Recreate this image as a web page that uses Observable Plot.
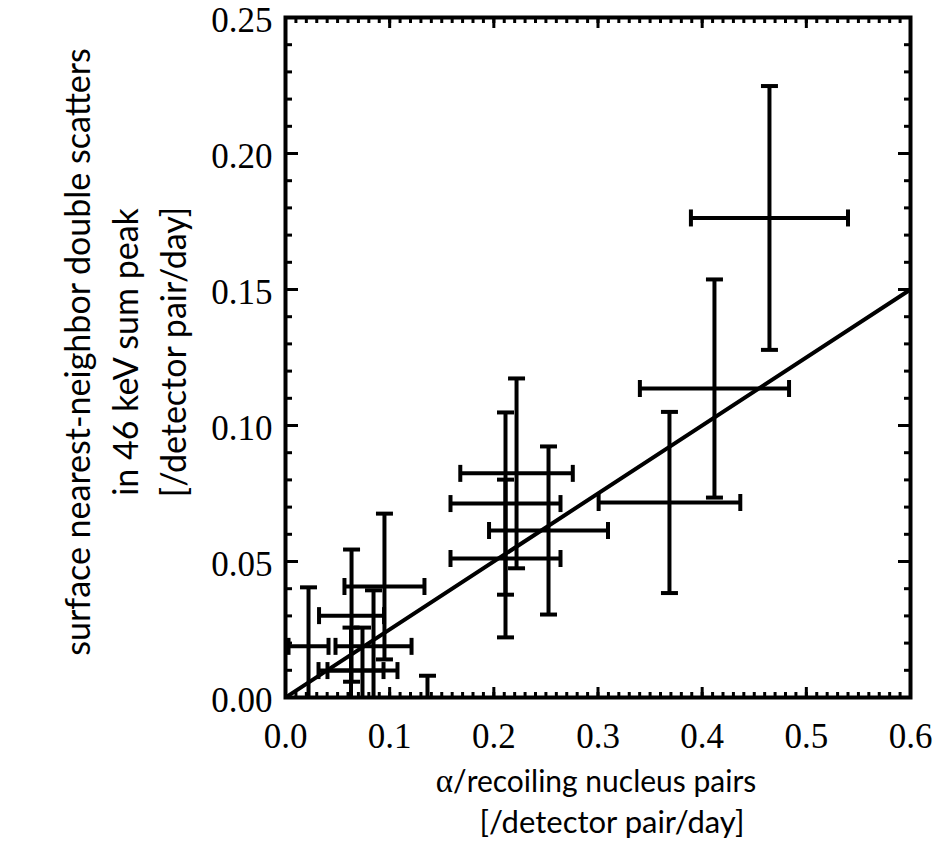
<!DOCTYPE html>
<html><head><meta charset="utf-8">
<script src="https://cdn.jsdelivr.net/npm/d3@7"></script>
<script src="https://cdn.jsdelivr.net/npm/@observablehq/plot@0.6"></script>
<style>body{margin:0;background:#fff}</style>
</head><body><div id="chart"></div>
<script>
// alpha/recoiling nucleus pair rate (x) and surface NN double-scatter rate (y), with 1-sigma errors
const xVal = [0.4646, 0.4118, 0.3686, 0.2218, 0.2112, 0.2525, 0.2112, 0.0950, 0.0634, 0.0221, 0.0845, 0.0739, 0.0629, 0.1363];
const yVal = [0.1763, 0.1136, 0.0717, 0.0824, 0.0713, 0.0614, 0.0511, 0.0408, 0.0301, 0.0188, 0.0188, 0.0099, 0.0099, -0.0030];
const xErr = [0.0754, 0.0716, 0.0680, 0.0540, 0.0528, 0.0571, 0.0528, 0.0384, 0.0312, 0.0192, 0.0365, 0.0336, 0.0312, 0.0300];
const yErr = [0.0485, 0.0401, 0.0333, 0.0349, 0.0335, 0.0309, 0.0290, 0.0268, 0.0243, 0.0217, 0.0206, 0.0158, 0.0158, 0.0110];
// linear fit
const fitX = [0, 0.6];
const fitSlope = 0.25, fitIntercept = 0;
// axes
const xTicks = [0, 0.1, 0.2, 0.3, 0.4, 0.5, 0.6];
const xTickLabels = ["0.0", "0.1", "0.2", "0.3", "0.4", "0.5", "0.6"];
const yTicks = [0, 0.05, 0.10, 0.15, 0.20, 0.25];
const yTickLabels = ["0.00", "0.05", "0.10", "0.15", "0.20", "0.25"];
const xMinor = d3.range(0, 0.6001, 0.01);
const yMinor = d3.range(0, 0.2501, 0.01);

const pts = xVal.map((x, i) => ({x, y: yVal[i], xe: xErr[i], ye: yErr[i]}));
const fit = fitX.map(x => ({x, y: fitSlope * x + fitIntercept}));

const hCap = {draw(ctx, size) { const r = Math.sqrt(size / Math.PI); ctx.moveTo(-r, 0); ctx.lineTo(r, 0); }};
const vCap = {draw(ctx, size) { const r = Math.sqrt(size / Math.PI); ctx.moveTo(0, -r); ctx.lineTo(0, r); }};

const SW = 4, CAP = 8.5;
const tickStyle = (o) => ({tickFormat: () => "", label: null, strokeWidth: 3, ...o});

const plot = Plot.plot({
  width: 945, height: 844,
  marginLeft: 285, marginRight: 35, marginTop: 17, marginBottom: 147,
  x: {domain: [0, 0.6]},
  y: {domain: [0, 0.25]},
  style: {background: "white"},
  marks: [
    // error bars
    Plot.ruleX(pts, {x: "x", y1: d => d.y - d.ye, y2: d => d.y + d.ye, stroke: "black", strokeWidth: SW, clip: true}),
    Plot.ruleY(pts, {y: "y", x1: d => d.x - d.xe, x2: d => d.x + d.xe, stroke: "black", strokeWidth: SW, clip: true}),
    Plot.dot(pts, {x: "x", y: d => d.y + d.ye, symbol: hCap, r: CAP, fill: "none", stroke: "black", strokeWidth: SW, clip: true}),
    Plot.dot(pts, {x: "x", y: d => d.y - d.ye, symbol: hCap, r: CAP, fill: "none", stroke: "black", strokeWidth: SW, clip: true}),
    Plot.dot(pts, {x: d => d.x - d.xe, y: "y", symbol: vCap, r: CAP, fill: "none", stroke: "black", strokeWidth: SW, clip: true}),
    Plot.dot(pts, {x: d => d.x + d.xe, y: "y", symbol: vCap, r: CAP, fill: "none", stroke: "black", strokeWidth: SW, clip: true}),
    // fit line
    Plot.line(fit, {x: "x", y: "y", stroke: "black", strokeWidth: SW, clip: true}),
    // inward ticks, all four sides
    Plot.axisX(tickStyle({anchor: "bottom", ticks: xTicks, tickSize: -10})),
    Plot.axisX(tickStyle({anchor: "top", ticks: xTicks, tickSize: -10})),
    Plot.axisX(tickStyle({anchor: "bottom", ticks: xMinor, tickSize: -5})),
    Plot.axisX(tickStyle({anchor: "top", ticks: xMinor, tickSize: -5})),
    Plot.axisY(tickStyle({anchor: "left", ticks: yTicks, tickSize: -13})),
    Plot.axisY(tickStyle({anchor: "right", ticks: yTicks, tickSize: -13})),
    Plot.axisY(tickStyle({anchor: "left", ticks: yMinor, tickSize: -7})),
    Plot.axisY(tickStyle({anchor: "right", ticks: yMinor, tickSize: -7})),
    // tick labels
    Plot.axisX({anchor: "bottom", ticks: xTicks, tickSize: 0, tickPadding: 26, label: null,
      tickFormat: (d) => xTickLabels[xTicks.indexOf(d)], fontSize: 35, fontFamily: "Liberation Serif", fill: "black"}),
    Plot.axisY({anchor: "left", ticks: yTicks, tickSize: 0, tickPadding: 13, label: null, dy: 3,
      tickFormat: (d) => yTickLabels[yTicks.indexOf(d)], fontSize: 35, fontFamily: "Liberation Serif", fill: "black"}),
    Plot.frame({stroke: "black", strokeWidth: 4})
  ]
});

const svg = d3.select(plot);
const tf = "Lato, 'Open Sans', sans-serif";
const xt1 = svg.append("text").attr("x", 596).attr("y", 792).attr("text-anchor", "middle")
  .attr("font-family", tf).attr("font-size", 30).attr("fill", "black");
xt1.append("tspan").attr("font-family", "Liberation Serif").attr("font-size", 33).text("α");
xt1.append("tspan").text("/recoiling nucleus pairs");
svg.append("text").attr("x", 612).attr("y", 833).attr("text-anchor", "middle")
  .attr("font-family", tf).attr("font-size", 31).attr("fill", "black").text("[/detector pair/day]");

const yLines = ["surface nearest-neighbor double scatters", "in 46 keV sum peak", "[/detector pair/day]"];
const yBase = [90, 138, 186];
yLines.forEach((t, i) => {
  svg.append("text").attr("transform", `translate(${yBase[i]},352) rotate(-90)`).attr("text-anchor", "middle")
    .attr("font-family", tf).attr("font-size", 34).attr("fill", "black").text(t);
});

document.getElementById("chart").appendChild(plot);
</script>
</body></html>
